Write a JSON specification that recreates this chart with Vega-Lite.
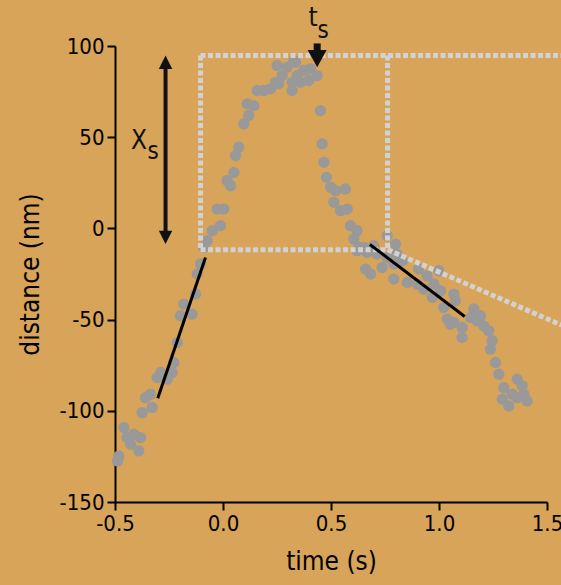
{
  "$schema": "https://vega.github.io/schema/vega-lite/v6.json",
  "width": 432,
  "height": 456,
  "autosize": {"type": "none"},
  "padding": {"left": 115, "top": 46, "right": 14, "bottom": 83},
  "background": "#D7A459",
  "config": {
    "view": {"stroke": null},
    "font": "'DejaVu Sans Condensed', 'DejaVu Sans', sans-serif",
    "axis": {
      "grid": false,
      "labelFlush": false,
      "labelOverlap": false,
      "domainColor": "#000000",
      "domainWidth": 2,
      "tickColor": "#000000",
      "tickWidth": 2,
      "tickSize": 8,
      "labelColor": "#000000",
      "labelFont": "'DejaVu Sans Condensed', 'DejaVu Sans', sans-serif",
      "labelFontSize": 22,
      "labelPadding": 3,
      "titleColor": "#000000",
      "titleFont": "'DejaVu Sans Condensed', 'DejaVu Sans', sans-serif",
      "titleFontSize": 26,
      "titleFontWeight": "normal"
    }
  },
  "datasets": {
    "pts": [
      {"t": -0.482, "d": -124.8}, {"t": -0.488, "d": -127.5}, {"t": -0.459, "d": -109.2}, {"t": -0.444, "d": -114.7},
      {"t": -0.413, "d": -112.8}, {"t": -0.382, "d": -114.7}, {"t": -0.428, "d": -118.3}, {"t": -0.39, "d": -122.0},
      {"t": -0.374, "d": -101.0}, {"t": -0.328, "d": -98.2}, {"t": -0.359, "d": -92.8}, {"t": -0.336, "d": -90.9},
      {"t": -0.305, "d": -81.8}, {"t": -0.289, "d": -79.0}, {"t": -0.258, "d": -82.7}, {"t": -0.235, "d": -79.0},
      {"t": -0.228, "d": -73.5}, {"t": -0.212, "d": -62.6}, {"t": -0.197, "d": -47.9}, {"t": -0.181, "d": -41.5},
      {"t": -0.143, "d": -47.0}, {"t": -0.127, "d": -36.0}, {"t": -0.119, "d": -25.0}, {"t": -0.104, "d": -19.5},
      {"t": -0.089, "d": -10.4}, {"t": -0.073, "d": -6.8}, {"t": -0.05, "d": -1.3}, {"t": -0.012, "d": 1.5},
      {"t": -0.027, "d": 10.6}, {"t": 0.004, "d": 10.6}, {"t": 0.019, "d": 26.2}, {"t": 0.035, "d": 23.4},
      {"t": 0.05, "d": 30.7}, {"t": 0.058, "d": 39.9}, {"t": 0.073, "d": 44.5}, {"t": 0.096, "d": 57.3},
      {"t": 0.119, "d": 61.9}, {"t": 0.112, "d": 68.3}, {"t": 0.143, "d": 67.3}, {"t": 0.158, "d": 75.6},
      {"t": 0.189, "d": 75.6}, {"t": 0.22, "d": 76.5}, {"t": 0.243, "d": 80.1}, {"t": 0.258, "d": 79.3},
      {"t": 0.274, "d": 83.8}, {"t": 0.251, "d": 89.3}, {"t": 0.297, "d": 88.4}, {"t": 0.336, "d": 91.1},
      {"t": 0.32, "d": 80.1}, {"t": 0.32, "d": 75.6}, {"t": 0.344, "d": 83.8}, {"t": 0.359, "d": 80.1},
      {"t": 0.374, "d": 86.6}, {"t": 0.405, "d": 87.5}, {"t": 0.397, "d": 81.1}, {"t": 0.436, "d": 83.8},
      {"t": 0.328, "d": 92.0}, {"t": 0.451, "d": 64.6}, {"t": 0.459, "d": 46.3}, {"t": 0.467, "d": 36.2},
      {"t": 0.479, "d": 28.0}, {"t": 0.498, "d": 22.5}, {"t": 0.521, "d": 20.7}, {"t": 0.567, "d": 21.6},
      {"t": 0.513, "d": 14.3}, {"t": 0.544, "d": 9.7}, {"t": 0.575, "d": 10.6}, {"t": 0.59, "d": 1.5},
      {"t": 0.621, "d": -1.3}, {"t": 0.606, "d": -5.8}, {"t": 0.629, "d": -10.4}, {"t": 0.621, "d": -12.2},
      {"t": 0.652, "d": -10.4}, {"t": 0.668, "d": -13.2}, {"t": 0.698, "d": -9.5}, {"t": 0.76, "d": -4.0},
      {"t": 0.799, "d": -8.6}, {"t": 0.66, "d": -22.3}, {"t": 0.683, "d": -25.0}, {"t": 0.737, "d": -21.4},
      {"t": 0.714, "d": -14.1}, {"t": 0.76, "d": -15.9}, {"t": 0.806, "d": -14.1}, {"t": 0.791, "d": -19.5},
      {"t": 0.83, "d": -17.7}, {"t": 0.791, "d": -27.8}, {"t": 0.853, "d": -29.6}, {"t": 0.906, "d": -22.3},
      {"t": 0.899, "d": -30.5}, {"t": 0.945, "d": -26.0}, {"t": 0.93, "d": -33.3}, {"t": 0.976, "d": -30.5},
      {"t": 0.999, "d": -23.2}, {"t": 0.969, "d": -37.9}, {"t": 1.007, "d": -34.2}, {"t": 1.069, "d": -36.0},
      {"t": 1.022, "d": -43.4}, {"t": 1.038, "d": -49.7}, {"t": 1.076, "d": -39.7}, {"t": 1.069, "d": -51.6},
      {"t": 1.053, "d": -52.5}, {"t": 1.107, "d": -54.3}, {"t": 1.107, "d": -59.8}, {"t": 1.161, "d": -44.2},
      {"t": 1.146, "d": -48.8}, {"t": 1.192, "d": -47.9}, {"t": 1.177, "d": -50.7}, {"t": 1.207, "d": -53.4},
      {"t": 1.23, "d": -56.1}, {"t": 1.246, "d": -61.6}, {"t": 1.238, "d": -66.2}, {"t": 1.262, "d": -73.5},
      {"t": 1.277, "d": -79.9}, {"t": 1.3, "d": -87.3}, {"t": 1.362, "d": -82.7}, {"t": 1.385, "d": -86.3},
      {"t": 1.393, "d": -90.9}, {"t": 1.339, "d": -90.9}, {"t": 1.293, "d": -93.6}, {"t": 1.323, "d": -97.3},
      {"t": 1.408, "d": -94.6}, {"t": 1.362, "d": -92.8}
    ],
    "fits": [
      {"t1": -0.302, "d1": -93.1, "t2": -0.081, "d2": -15.9},
      {"t1": 0.68, "d1": -8.8, "t2": 1.119, "d2": -48.3}
    ],
    "box": [
      {"t1": -0.104, "d1": 94.8, "t2": -0.104, "d2": -11.7},
      {"t1": -0.104, "d1": -11.7, "t2": 0.762, "d2": -11.7},
      {"t1": 0.762, "d1": 94.8, "t2": 0.762, "d2": -11.7},
      {"t1": -0.104, "d1": 94.8, "t2": 1.567, "d2": 94.8},
      {"t1": 0.762, "d1": -11.7, "t2": 1.567, "d2": -53.0}
    ],
    "xsArrow": [{"t1": -0.266, "d1": 90.0, "t2": -0.266, "d2": -4.0}],
    "xsUp": [{"t": -0.266, "d": 94.8}],
    "xsDown": [{"t": -0.266, "d": -8.6}],
    "tsArrow": [{"t1": 0.436, "d1": 101.4, "t2": 0.436, "d2": 96.0}],
    "tsDown": [{"t": 0.436, "d": 88.4}],
    "bigLabels": [{"t": -0.389, "d": 48.1, "txt": "X"}, {"t": 0.417, "d": 115.4, "txt": "t"}],
    "subLabels": [{"t": -0.324, "d": 42.1, "txt": "s"}, {"t": 0.463, "d": 108.2, "txt": "s"}]
  },
  "layer": [
    {
      "data": {"name": "pts"},
      "mark": {"type": "circle", "size": 128, "color": "#999999", "opacity": 1},
      "encoding": {
        "x": {"field": "t", "type": "quantitative", "scale": {"domain": [-0.5, 1.5], "nice": false, "zero": false},
          "axis": {"title": "time (s)", "values": [-0.5, 0, 0.5, 1, 1.5], "labelExpr": "replace(format(datum.value, '.1f'), '\u2212', '-')", "titlePadding": 14}},
        "y": {"field": "d", "type": "quantitative", "scale": {"domain": [-150, 100], "nice": false, "zero": false},
          "axis": {"title": "distance (nm)", "values": [-150, -100, -50, 0, 50, 100], "labelExpr": "toString(datum.value)", "titlePadding": 16}}
      }
    },
    {
      "data": {"name": "box"},
      "mark": {"type": "rule", "color": "#D2D2D2", "strokeWidth": 5, "strokeDash": [5, 2.5]},
      "encoding": {
        "x": {"field": "t1", "type": "quantitative"},
        "y": {"field": "d1", "type": "quantitative"},
        "x2": {"field": "t2"},
        "y2": {"field": "d2"}
      }
    },
    {
      "data": {"name": "fits"},
      "mark": {"type": "rule", "color": "#000000", "strokeWidth": 3},
      "encoding": {
        "x": {"field": "t1", "type": "quantitative"},
        "y": {"field": "d1", "type": "quantitative"},
        "x2": {"field": "t2"},
        "y2": {"field": "d2"}
      }
    },
    {
      "data": {"name": "xsArrow"},
      "mark": {"type": "rule", "color": "#111111", "strokeWidth": 4},
      "encoding": {
        "x": {"field": "t1", "type": "quantitative"},
        "y": {"field": "d1", "type": "quantitative"},
        "x2": {"field": "t2"},
        "y2": {"field": "d2"}
      }
    },
    {
      "data": {"name": "xsUp"},
      "mark": {"type": "point", "shape": "M0,0L-1,2L1,2Z", "size": 180, "filled": true, "color": "#111111", "opacity": 1},
      "encoding": {"x": {"field": "t", "type": "quantitative"}, "y": {"field": "d", "type": "quantitative"}}
    },
    {
      "data": {"name": "xsDown"},
      "mark": {"type": "point", "shape": "M0,0L-1,-2L1,-2Z", "size": 180, "filled": true, "color": "#111111", "opacity": 1},
      "encoding": {"x": {"field": "t", "type": "quantitative"}, "y": {"field": "d", "type": "quantitative"}}
    },
    {
      "data": {"name": "tsArrow"},
      "mark": {"type": "rule", "color": "#111111", "strokeWidth": 7},
      "encoding": {
        "x": {"field": "t1", "type": "quantitative"},
        "y": {"field": "d1", "type": "quantitative"},
        "x2": {"field": "t2"},
        "y2": {"field": "d2"}
      }
    },
    {
      "data": {"name": "tsDown"},
      "mark": {"type": "point", "shape": "M0,0L-1,-1.8L1,-1.8Z", "size": 361, "filled": true, "color": "#111111", "opacity": 1},
      "encoding": {"x": {"field": "t", "type": "quantitative"}, "y": {"field": "d", "type": "quantitative"}}
    },
    {
      "data": {"name": "bigLabels"},
      "mark": {"type": "text", "fontSize": 26, "baseline": "middle", "align": "center", "color": "#111111"},
      "encoding": {"x": {"field": "t", "type": "quantitative"}, "y": {"field": "d", "type": "quantitative"}, "text": {"field": "txt"}}
    },
    {
      "data": {"name": "subLabels"},
      "mark": {"type": "text", "fontSize": 24, "baseline": "middle", "align": "center", "color": "#111111"},
      "encoding": {"x": {"field": "t", "type": "quantitative"}, "y": {"field": "d", "type": "quantitative"}, "text": {"field": "txt"}}
    }
  ]
}
